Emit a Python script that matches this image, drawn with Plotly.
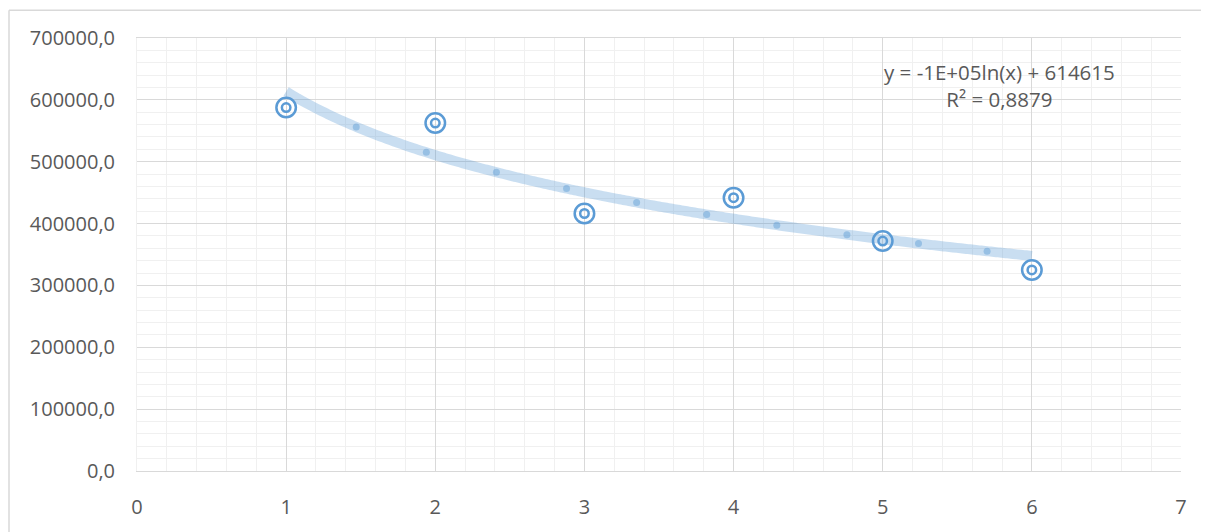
import numpy as np
import plotly.graph_objects as go

# Data
x_vals = [1, 2, 3, 4, 5, 6]
y_vals = [587500, 562500, 416300, 441800, 371800, 325000]
dot_x = [1.47, 1.94, 2.41, 2.88, 3.35, 3.82, 4.29, 4.76, 5.24, 5.70]
eq_text = "y = -1E+05ln(x) + 614615"
r2_text = "R² = 0,8879"

# Logarithmic trendline fitted from data
b, a = np.polyfit(np.log(x_vals), y_vals, 1)
tx = np.linspace(1, 6, 200)
ty = a + b * np.log(tx)
dy = a + b * np.log(np.array(dot_x))

BLUE = "#5b9bd5"
FONT = "Open Sans"
TXT = "#595959"

fig = go.Figure()
fig.add_trace(go.Scatter(x=tx, y=ty, mode="lines",
                         line=dict(color="rgba(91,155,213,0.33)", width=10, shape="spline"),
                         hoverinfo="skip"))
fig.add_trace(go.Scatter(x=dot_x, y=dy, mode="markers",
                         marker=dict(color="rgba(91,155,213,0.45)", size=7),
                         hoverinfo="skip"))
fig.add_trace(go.Scatter(x=x_vals, y=y_vals, mode="markers",
                         marker=dict(symbol="circle-open", size=19.5, color=BLUE,
                                     line=dict(width=2.5, color=BLUE))))
fig.add_trace(go.Scatter(x=x_vals, y=y_vals, mode="markers",
                         marker=dict(symbol="circle-open", size=8.5, color=BLUE,
                                     line=dict(width=2.5, color=BLUE))))

fig.add_annotation(x=5.78, y=623000, xref="x", yref="y",
                   text=eq_text + "<br>" + r2_text, showarrow=False,
                   align="center", font=dict(family=FONT, size=20.5, color=TXT))

# chart frame lines
fig.add_shape(type="line", xref="paper", yref="paper", x0=-0.1226, x1=1.05,
              y0=1.064, y1=1.064, line=dict(color="#d9d9d9", width=1.5))
fig.add_shape(type="line", xref="paper", yref="paper", x0=-0.1226, x1=-0.1226,
              y0=-0.2, y1=1.064, line=dict(color="#d9d9d9", width=1.5))

fig.update_layout(
    width=1201, height=524,
    margin=dict(l=129, r=28, t=30, b=56),
    paper_bgcolor="white", plot_bgcolor="white",
    showlegend=False,
    separators=", ",
    font=dict(family=FONT, size=20, color=TXT),
)
fig.update_xaxes(range=[0, 7], dtick=1, tick0=0, showgrid=True, gridcolor="#d9d9d9",
                 gridwidth=1.3, zeroline=False, showline=True, linecolor="#d9d9d9",
                 linewidth=1.3, ticks="", ticklabelstandoff=18,
                 minor=dict(dtick=0.2, showgrid=True, gridcolor="#f0f0f0", gridwidth=1.3),
                 tickfont=dict(family=FONT, size=20, color=TXT), mirror=True)
fig.update_yaxes(range=[0, 700000], dtick=100000, tick0=0, showgrid=True,
                 gridcolor="#d9d9d9", gridwidth=1.3, zeroline=False, showline=True,
                 linecolor="#f0f0f0", ticks="", tickformat=".1f", ticklabelstandoff=17,
                 minor=dict(dtick=20000, showgrid=True, gridcolor="#f0f0f0", gridwidth=1.3),
                 tickfont=dict(family=FONT, size=20, color=TXT))

fig.write_html("out.html")
